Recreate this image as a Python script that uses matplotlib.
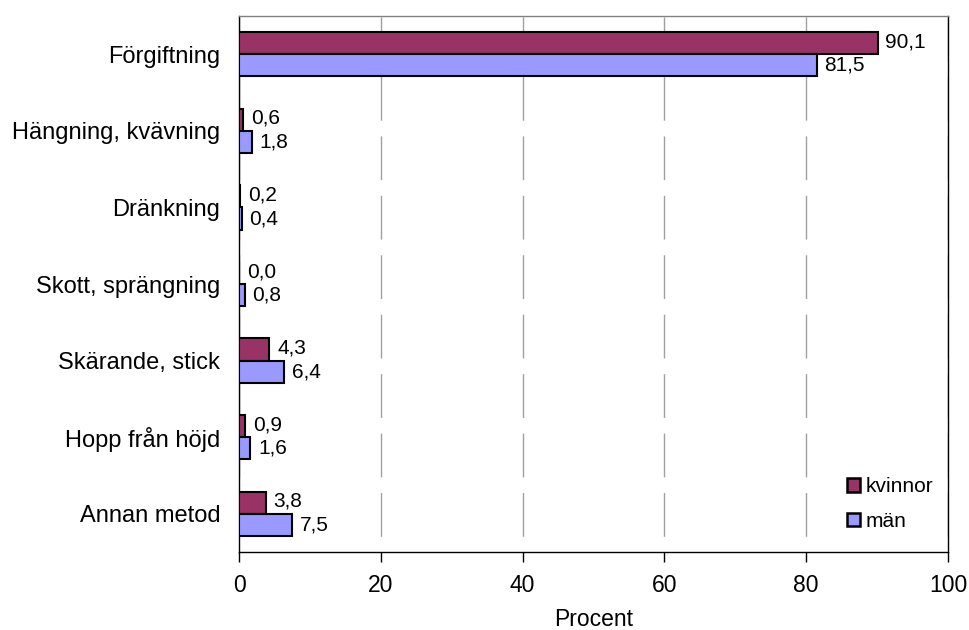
import matplotlib
matplotlib.use("Agg")
import matplotlib.pyplot as plt
from matplotlib.patches import Patch
import numpy as np

plt.rcParams['font.family'] = ['Liberation Sans', 'DejaVu Sans']

categories = ["Förgiftning", "Hängning, kvävning", "Dränkning", "Skott, sprängning",
              "Skärande, stick", "Hopp från höjd", "Annan metod"]
kvinnor = [90.1, 0.6, 0.2, 0.0, 4.3, 0.9, 3.8]
man = [81.5, 1.8, 0.4, 0.8, 6.4, 1.6, 7.5]
xticks = [0, 20, 40, 60, 80, 100]

col_k = "#993366"
col_m = "#9999FF"

fig = plt.figure(figsize=(9.69, 6.30), dpi=100)
ax = fig.add_axes([239/969, 1 - 552/630, (948 - 239)/969, (552 - 16)/630])

y = np.arange(len(categories))
h = 0.29
ax.barh(y - h/2, kvinnor, height=h, color=col_k, edgecolor="black", linewidth=1.5, zorder=3)
ax.barh(y + h/2, man, height=h, color=col_m, edgecolor="black", linewidth=1.5, zorder=3)

def fmt(v):
    return f"{v:.1f}".replace(".", ",")

for yi, v in zip(y, kvinnor):
    ax.annotate(fmt(v), (v, yi - h/2), xytext=(5.5, 1), textcoords="offset points",
                va="center", ha="left", fontsize=15, zorder=4)
for yi, v in zip(y, man):
    ax.annotate(fmt(v), (v, yi + h/2), xytext=(5.5, 0), textcoords="offset points",
                va="center", ha="left", fontsize=15, zorder=4)

ax.set_xlim(0, 100)
ax.set_ylim(len(categories) - 0.5, -0.5)
ax.set_yticks(y)
ax.set_yticklabels(categories, fontsize=17)
ax.tick_params(axis="y", length=0, pad=13.5)
ax.set_xticks(xticks)
ax.set_xticklabels([str(t) for t in xticks], fontsize=16.5)
ax.tick_params(axis="x", direction="out", length=7, width=1, pad=9)
ax.set_xlabel("Procent", fontsize=16.5, labelpad=8)

ax.grid(axis="x", color="#a0a0a0", linewidth=1, linestyle=(31.5, (31.5, 11.3)), zorder=0)
ax.set_axisbelow(True)

for side in ["left", "bottom", "right"]:
    ax.spines[side].set_color("black")
    ax.spines[side].set_linewidth(1)
ax.spines["top"].set_color("#808080")
ax.spines["top"].set_linewidth(1)

handles = [Patch(facecolor=col_k, edgecolor="black", linewidth=1.8, label="kvinnor"),
           Patch(facecolor=col_m, edgecolor="black", linewidth=1.8, label="män")]
ax.legend(handles=handles, loc="lower right", bbox_to_anchor=(1.0, 0.012), frameon=False,
          fontsize=15, handlelength=0.6, handleheight=0.6, handletextpad=0.3,
          labelspacing=0.75, borderaxespad=0.3)

fig.savefig("out.png", dpi=100)
